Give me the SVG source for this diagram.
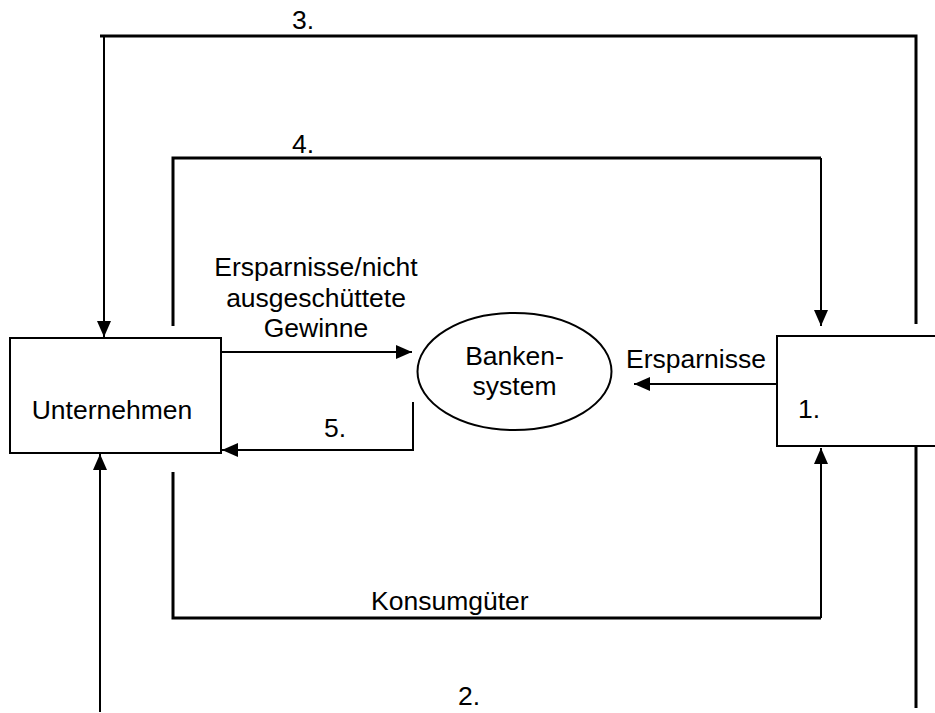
<svg xmlns="http://www.w3.org/2000/svg" width="935" height="713" viewBox="0 0 935 713">
<style>
text{font-family:"Liberation Sans",Arial,sans-serif;font-size:26.5px;fill:#000}
.box{fill:#fff;stroke:#000;stroke-width:2}
.thin{fill:none;stroke:#000;stroke-width:2}
.thick{fill:none;stroke:#000;stroke-width:3}
</style>
<defs>
<marker id="ah" markerUnits="userSpaceOnUse" markerWidth="17" markerHeight="15" refX="16" refY="7" orient="auto" viewBox="0 0 17 15">
<path d="M0,0 L16,7 L0,14 z" fill="#000"/>
</marker>
</defs>
<rect width="935" height="713" fill="#fff"/>
<g id="connectors">
<path class="thick" d="M916,324 V36 H100"/>
<path class="thin" d="M104,36 V337" marker-end="url(#ah)"/>
<path class="thick" d="M173,326 V158 H821"/>
<path class="thin" d="M821,158 V326" marker-end="url(#ah)"/>
<path class="thick" d="M173,472 V618 H821"/>
<path class="thin" d="M821,618 V448" marker-end="url(#ah)"/>
<path class="thick" d="M916,444 V708"/>
<path class="thin" d="M100,712 V454" marker-end="url(#ah)"/>
<path class="thin" d="M221,352 H412" marker-end="url(#ah)"/>
<path class="thin" d="M413,402 V450 H222" marker-end="url(#ah)"/>
<path class="thin" d="M779,384 H634" marker-end="url(#ah)"/>
<text x="292" y="29">3.</text>
<text x="292" y="153">4.</text>
<text x="324" y="437">5.</text>
<text x="458" y="705">2.</text>
<text x="371" y="610">Konsumgüter</text>
<text x="316" y="276" text-anchor="middle">Ersparnisse/nicht</text>
<text x="316" y="307" text-anchor="middle">ausgeschüttete</text>
<text x="316" y="337" text-anchor="middle">Gewinne</text>
<text x="626" y="368">Ersparnisse</text>
</g>
<g id="unternehmen">
<rect class="box" x="10" y="338" width="211" height="115"/>
<text x="112" y="419" text-anchor="middle">Unternehmen</text>
</g>
<g id="bankensystem">
<ellipse class="box" cx="514.5" cy="371.5" rx="97" ry="58.5"/>
<text x="514.5" y="365" text-anchor="middle">Banken-</text>
<text x="514.5" y="395" text-anchor="middle">system</text>
</g>
<g id="haushalte">
<rect class="box" x="777" y="336" width="170" height="110"/>
<text x="798" y="418">1.</text>
</g>
</svg>
